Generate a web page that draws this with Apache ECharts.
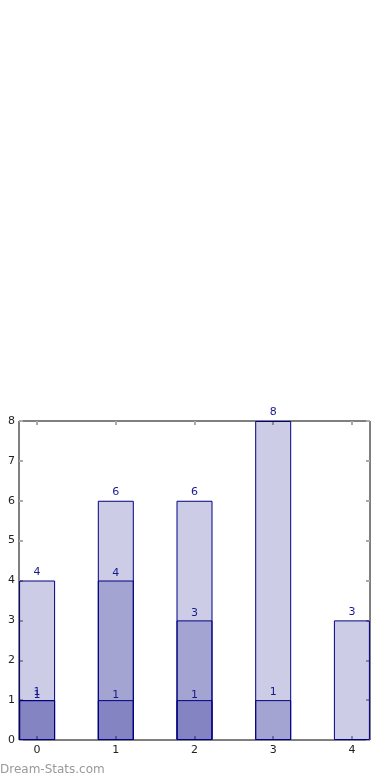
<!DOCTYPE html>
<html><head><meta charset="utf-8">
<script src="https://cdn.jsdelivr.net/npm/echarts@6/dist/echarts.min.js"></script>
<style>html,body{margin:0;padding:0;background:#fff}#c{width:390px;height:780px}</style>
</head><body><div id="c"></div>
<script>
var categories = [0, 1, 2, 3, 4];
var seriesA = [4, 6, 6, 8, 3];
var seriesB = [1, 4, 3, 1, null];
var seriesC = [1, 1, 1, null, null];
var yTicks = [0, 1, 2, 3, 4, 5, 6, 7, 8];

function pts(arr) {
  var out = [];
  for (var i = 0; i < categories.length; i++) {
    if (arr[i] !== null) out.push([categories[i], arr[i]]);
  }
  return out;
}
var font = 'DejaVu Sans';
function bar(name, arr, dist) {
  return {
    name: name, type: 'bar', data: pts(arr), barWidth: 36, barGap: '-100%',
    itemStyle: { color: 'rgba(0,0,128,0.2)', borderColor: '#000080', borderWidth: 1 },
    label: { show: true, position: 'top', distance: dist, color: '#1a1a8c', fontFamily: font, fontSize: 11 },
    emphasis: { disabled: true }, animation: false
  };
}
var tickStyle = { show: true, inside: true, length: 4, lineStyle: { color: '#aaaaaa', width: 2 } };
var chart = echarts.init(document.getElementById('c'));
chart.setOption({
  animation: false,
  grid: { left: 19, right: 20, top: 421, bottom: 40, show: true, borderColor: '#000', borderWidth: 1, backgroundColor: 'transparent' },
  xAxis: [
    { type: 'value', min: -0.23, max: 4.23, position: 'bottom',
      axisLine: { show: false, onZero: false }, splitLine: { show: false },
      axisTick: Object.assign({ customValues: categories }, tickStyle),
      axisLabel: { customValues: categories, color: '#222', fontFamily: font, fontSize: 11, margin: 5 } },
    { type: 'value', min: -0.23, max: 4.23, position: 'top',
      axisLine: { show: false, onZero: false }, splitLine: { show: false },
      axisTick: Object.assign({ customValues: categories }, tickStyle),
      axisLabel: { show: false } }
  ],
  yAxis: [
    { type: 'value', min: yTicks[0], max: yTicks[yTicks.length - 1], interval: 1, position: 'left',
      axisLine: { show: false, onZero: false }, splitLine: { show: false },
      axisTick: tickStyle,
      axisLabel: { color: '#222', fontFamily: font, fontSize: 11, margin: 4 } },
    { type: 'value', min: yTicks[0], max: yTicks[yTicks.length - 1], interval: 1, position: 'right',
      axisLine: { show: false, onZero: false }, splitLine: { show: false },
      axisTick: tickStyle, axisLabel: { show: false } }
  ],
  series: [bar('A', seriesA, 3), bar('B', seriesB, 2), bar('C', seriesC, -1)],
  graphic: [{ type: 'text', left: 0, top: 764, style: { text: 'Dream-Stats.com', fill: '#999', font: '12px "DejaVu Sans"' } }]
});
</script></body></html>
